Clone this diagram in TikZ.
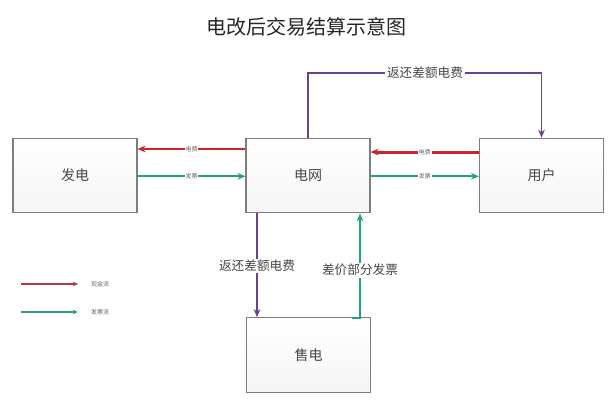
\documentclass[tikz,border=0pt]{standalone}
\usepackage{fontspec}
\setmainfont{Noto Sans CJK SC}
\usetikzlibrary{positioning, arrows.meta}

\definecolor{cashred}{RGB}{205,35,45}
\definecolor{billgreen}{RGB}{35,165,115}
\definecolor{backpurple}{RGB}{105,65,145}
\definecolor{boxline}{RGB}{125,125,125}
\definecolor{boxtext}{RGB}{70,70,70}

\tikzset{
  party/.style={rectangle, draw=boxline, line width=0.8pt, top color=white,
    bottom color=gray!8, minimum width=93pt, minimum height=56pt,
    text=boxtext, font=\fontsize{10.5}{12}\selectfont},
  tiny/.style={fill=white, inner sep=0.6pt, text=gray!80!black,
    font=\fontsize{4.5}{5}\selectfont},
  lbl/.style={fill=white, inner sep=1pt, text=boxtext,
    font=\fontsize{9.5}{11}\selectfont},
  cash/.style={draw=cashred, line width=1.5pt, -{Stealth[length=6pt,width=5pt]}},
  bill/.style={draw=billgreen, line width=1.5pt, -{Stealth[length=6pt,width=5pt]}},
  refund/.style={draw=backpurple, line width=1.4pt}
}

\begin{document}
\begin{tikzpicture}[x=0.75pt, y=-0.75pt]
  \useasboundingbox (0,0) rectangle (613,401);
  \node (title) at (306,27) [font=\fontsize{15}{17}\selectfont, text=black!85] {电改后交易结算示意图};
  % four parties
  \node (fd) [party] at (75,175.5) {发电};
  \node (dw) [party] at (308,175.5) {电网};
  \node (yh) [party] at (541.5,175.5) {用户};
  \node (sd) [party] at (308.5,355) {售电};
  % cash and bill flows
  \draw[cash] ([yshift=19.9pt]dw.west) -- node[tiny] {电费} ([yshift=19.9pt]fd.east);
  \draw[bill] ([yshift=-0.6pt]fd.east) -- node[tiny] {发票} ([yshift=-0.6pt]dw.west);
  \draw[cash, line width=2.2pt] ([yshift=17.6pt]yh.west) -- node[tiny] {电费} ([yshift=17.6pt]dw.east);
  \draw[bill] ([yshift=-0.6pt]dw.east) -- node[tiny] {发票} ([yshift=-0.6pt]yh.west);
  % refund over the top
  \node (fk1) [lbl] at (425,73) {返还差额电费};
  \draw[refund] (dw.north) |- (fk1.west);
  \draw[refund, -{Stealth[length=6pt,width=5pt]}] (fk1.east) -| (yh.north);
  % refund and bill with the retailer
  \node (fk2) [lbl] at (257,266) {返还差额电费};
  \draw[refund] (fk2.north |- dw.south) -- (fk2.north);
  \draw[refund, -{Stealth[length=6pt,width=5pt]}] (fk2.south) -- (fk2.south |- sd.north);
  \node (fp) [lbl] at (360,270) {差价部分发票};
  \coordinate (fp0) at (352,318);
  \draw[bill, -] (fp0) -| (fp.south);
  \draw[bill] (fp.north) -- (fp.north |- dw.south);
  % legend
  \coordinate (l1a) at (21,284);
  \coordinate (l1b) at (78,284);
  \coordinate (l2a) at (21,312);
  \coordinate (l2b) at (78,312);
  \node (xjl) [tiny, right=9pt of l1b] {现金流};
  \node (fpl) [tiny, right=9pt of l2b] {发票流};
  \draw[draw=cashred!80!gray, line width=0.8pt, -{Stealth[length=4pt,width=3.5pt]}] (l1a) -- (l1b);
  \draw[draw=billgreen!80!gray, line width=0.8pt, -{Stealth[length=4pt,width=3.5pt]}] (l2a) -- (l2b);
\end{tikzpicture}
\end{document}
